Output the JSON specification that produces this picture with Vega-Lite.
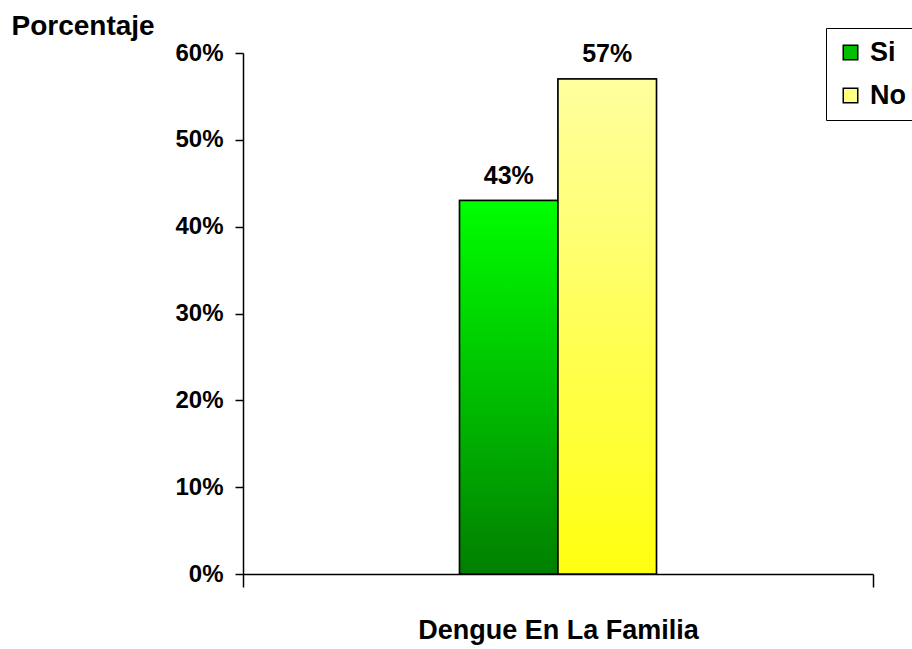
{
  "$schema": "https://vega.github.io/schema/vega-lite/v6.json",
  "width": 630,
  "height": 521,
  "autosize": {"type": "none"},
  "padding": {"left": 243, "top": 53, "right": 39, "bottom": 75},
  "background": "white",
  "config": {"view": {"stroke": null}, "font": "Liberation Sans"},
  "data": {"values": [
    {"grupo": "Dengue En La Familia", "respuesta": "Si", "pct": 0.43},
    {"grupo": "Dengue En La Familia", "respuesta": "No", "pct": 0.57}
  ]},
  "encoding": {
    "x": {
      "field": "grupo", "type": "nominal",
      "scale": {"paddingInner": 0, "paddingOuter": 0},
      "axis": {
        "labels": false, "title": "Dengue En La Familia",
        "titleFontSize": 27, "titleFontWeight": "bold", "titleColor": "black",
        "titlePadding": 30, "domainColor": "black", "domainWidth": 1.5,
        "tickBand": "extent", "tickColor": "black", "tickSize": 13, "tickWidth": 1.5
      }
    },
    "xOffset": {
      "field": "respuesta",
      "scale": {"domain": ["_a", "_b", "Si", "No", "_c", "_d"], "paddingOuter": 0.2, "paddingInner": 0}
    },
    "y": {
      "field": "pct", "type": "quantitative",
      "scale": {"domain": [0, 0.6]},
      "axis": {
        "values": [0, 0.1, 0.2, 0.3, 0.4, 0.5, 0.6], "format": ".0%",
        "grid": false, "labelFontSize": 24, "labelFontWeight": "bold", "labelColor": "black",
        "labelPadding": 12, "tickSize": 8, "tickColor": "black", "tickWidth": 1.5,
        "domainColor": "black", "domainWidth": 1.5,
        "title": "Porcentaje", "titleAngle": 0, "titleAlign": "left", "titleBaseline": "alphabetic",
        "titleX": -232, "titleY": -19, "titleFontSize": 28, "titleFontWeight": "bold", "titleColor": "black"
      }
    }
  },
  "layer": [
    {
      "mark": {"type": "bar", "stroke": "black", "strokeWidth": 1.5},
      "encoding": {
        "color": {
          "field": "respuesta", "type": "nominal",
          "scale": {"domain": ["Si", "No"], "range": ["#00c000", "#ffff80"]},
          "legend": {
            "orient": "none", "legendX": 583, "legendY": -25, "title": null,
            "strokeColor": "black", "fillColor": "white", "padding": 11,
            "symbolType": "square", "symbolSize": 210, "symbolStrokeColor": "black", "symbolStrokeWidth": 1.5,
            "labelFontSize": 27, "labelFontWeight": "bold", "labelColor": "black", "rowPadding": 15, "labelOffset": 6
          }
        }
      }
    },
    {
      "transform": [{"filter": "datum.respuesta === 'Si'"}],
      "mark": {
        "type": "bar", "stroke": "black", "strokeWidth": 1.5,
        "color": {"gradient": "linear", "x1": 0, "y1": 0, "x2": 0, "y2": 1,
          "stops": [{"offset": 0, "color": "#00ff00"}, {"offset": 1, "color": "#008000"}]}
      },
      "encoding": {}
    },
    {
      "transform": [{"filter": "datum.respuesta === 'No'"}],
      "mark": {
        "type": "bar", "stroke": "black", "strokeWidth": 1.5,
        "color": {"gradient": "linear", "x1": 0, "y1": 0, "x2": 0, "y2": 1,
          "stops": [{"offset": 0, "color": "#ffffa0"}, {"offset": 1, "color": "#ffff10"}]}
      },
      "encoding": {}
    },
    {
      "mark": {"type": "text", "fontSize": 25, "fontWeight": "bold", "color": "black", "baseline": "alphabetic", "dy": -17},
      "encoding": {"text": {"field": "pct", "type": "quantitative", "format": ".0%"}}
    }
  ]
}
